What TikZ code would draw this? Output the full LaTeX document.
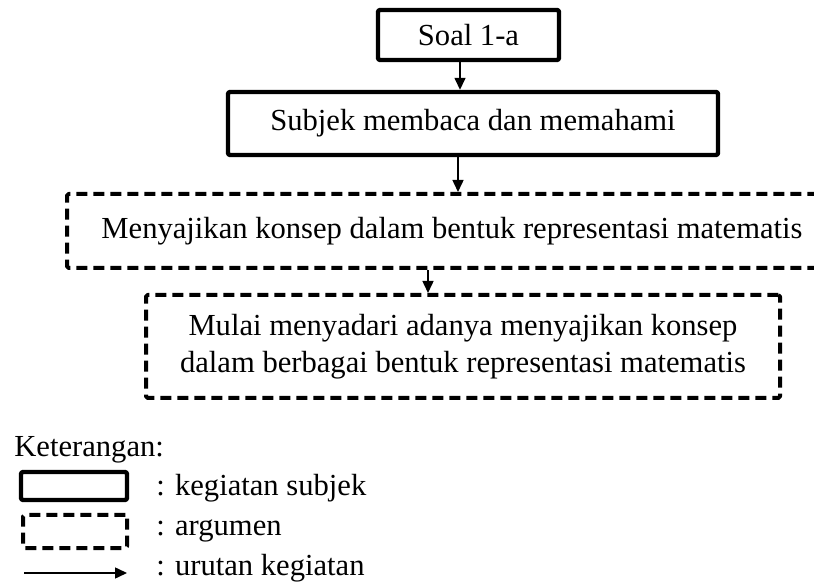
\documentclass[tikz,border=0pt]{standalone}
\usepackage{fontspec}
\setmainfont{Liberation Serif}
\usetikzlibrary{arrows.meta}
\begin{document}
\begin{tikzpicture}[x=0.5pt,y=-0.5pt,
  every node/.style={font=\fontsize{15.3}{18.5}\selectfont, inner sep=0pt},
  solidbox/.style={draw, line width=2.2pt, line join=round, rounded corners=0.8pt, align=center},
  dashbox/.style={draw, line width=2pt, line join=round, rounded corners=0.8pt, dash pattern=on 5.5pt off 3pt, align=center},
  arr/.style={line width=0.75pt, -{Triangle[length=6pt,width=5.5pt]}}
]
\useasboundingbox (0,0) rectangle (814,582);
\node[solidbox, minimum width=181*0.5pt, minimum height=50*0.5pt] (b1) at (468.5,35) {Soal 1-a};
\node[solidbox, minimum width=490*0.5pt, minimum height=63*0.5pt] (b2) at (473,123.5) {Subjek membaca dan memahami};
\node[dashbox, minimum width=770*0.5pt, minimum height=74*0.5pt] (b3) at (452,231) {Menyajikan konsep dalam bentuk representasi matematis};
\node[dashbox, minimum width=634*0.5pt, minimum height=103*0.5pt] (b4) at (463,346.5) {Mulai menyadari adanya menyajikan konsep\\dalam berbagai bentuk representasi matematis};
\draw[arr] ([xshift=-4.25pt]b1.south) -- ([xshift=-4.25pt]b1.south |- b2.north);
\draw[arr] ([xshift=-7.5pt]b2.south) -- ([xshift=-7.5pt]b2.south |- b3.north);
\draw[arr] ([xshift=-12pt]b3.south) -- ([xshift=-12pt]b3.south |- b4.north);
% legend
\node[anchor=base west] (ket) at (14,457) {Keterangan:};
\node[solidbox, minimum width=106*0.5pt, minimum height=28*0.5pt] (l1) at (74,486) {};
\node[dashbox, minimum width=104*0.5pt, minimum height=33*0.5pt] (l2) at (75,531.5) {};
\coordinate (l3a) at (24,573);
\coordinate (l3b) at (127,573);
\draw[arr] (l3a) -- (l3b);
\node[anchor=base west] (t1) at (156,495) {: kegiatan subjek};
\node[anchor=base west] (t2) at (156,535) {: argumen};
\node[anchor=base west] (t3) at (156,575) {: urutan kegiatan};
\end{tikzpicture}
\end{document}
